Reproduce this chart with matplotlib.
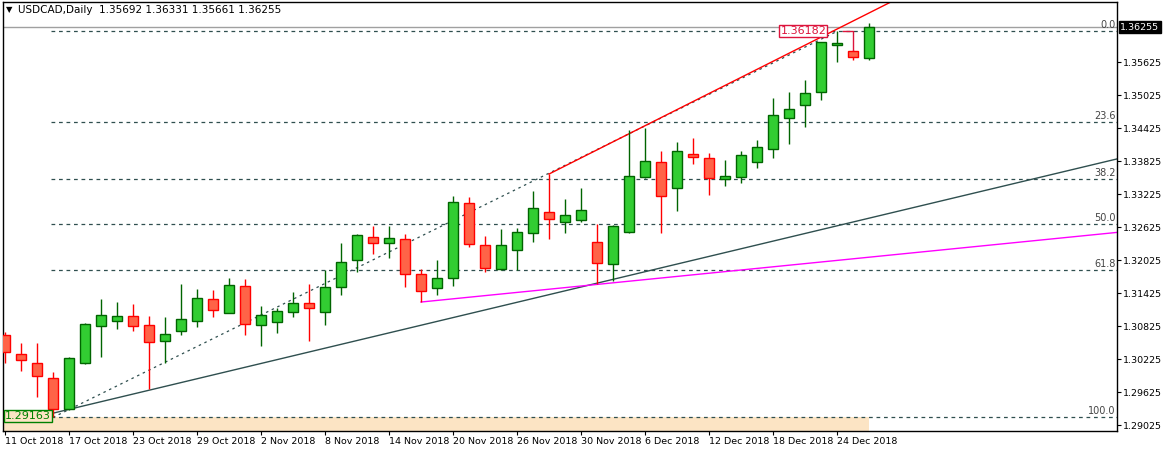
import matplotlib
matplotlib.use("Agg")
import matplotlib.pyplot as plt
import matplotlib.transforms as mtrans

# --- data (USDCAD daily, 11 Oct - 26 Dec 2018) ---
dates = ["11 Oct 2018", "12 Oct", "15 Oct", "16 Oct", "17 Oct 2018", "18 Oct", "19 Oct", "22 Oct",
         "23 Oct 2018", "24 Oct", "25 Oct", "26 Oct", "29 Oct 2018", "30 Oct", "31 Oct", "1 Nov",
         "2 Nov 2018", "5 Nov", "6 Nov", "7 Nov", "8 Nov 2018", "9 Nov", "12 Nov", "13 Nov",
         "14 Nov 2018", "15 Nov", "16 Nov", "19 Nov", "20 Nov 2018", "21 Nov", "22 Nov", "23 Nov",
         "26 Nov 2018", "27 Nov", "28 Nov", "29 Nov", "30 Nov 2018", "3 Dec", "4 Dec", "5 Dec",
         "6 Dec 2018", "7 Dec", "10 Dec", "11 Dec", "12 Dec 2018", "13 Dec", "14 Dec", "17 Dec",
         "18 Dec 2018", "19 Dec", "20 Dec", "21 Dec", "24 Dec 2018", "25 Dec", "26 Dec"]
opens = [1.30661, 1.30316, 1.30152, 1.29879, 1.29316, 1.30152, 1.30825, 1.30916, 1.31007, 1.30843,
         1.30552, 1.30734, 1.30916, 1.31316, 1.31061, 1.31552, 1.30843, 1.30897, 1.31079, 1.31243,
         1.31079, 1.31534, 1.32025, 1.32443, 1.32334, 1.32407, 1.31770, 1.31516, 1.31697, 1.33061,
         1.32297, 1.31861, 1.32207, 1.32516, 1.32897, 1.32716, 1.32752, 1.32352, 1.31952, 1.32534,
         1.33534, 1.33807, 1.33334, 1.33952, 1.33879, 1.33497, 1.33534, 1.33807, 1.34043, 1.34607,
         1.34843, 1.35079, 1.35934, 1.35825, 1.35692]
highs = [1.30716, 1.30516, 1.30516, 1.29988, 1.30261, 1.30879, 1.31316, 1.31261, 1.31225, 1.31007,
         1.30988, 1.31588, 1.31497, 1.31479, 1.31697, 1.31679, 1.31188, 1.31152, 1.31443, 1.31588,
         1.31843, 1.32334, 1.32497, 1.32643, 1.32643, 1.32497, 1.31861, 1.32025, 1.33188, 1.33170,
         1.32461, 1.32588, 1.32607, 1.33279, 1.33588, 1.33134, 1.33334, 1.32679, 1.32661, 1.34388,
         1.34425, 1.34006, 1.34170, 1.34243, 1.33970, 1.33843, 1.34006, 1.34207, 1.34970, 1.35079,
         1.35297, 1.35995, 1.36182, 1.35843, 1.36331]
lows = [1.30152, 1.30007, 1.29534, 1.29163, 1.29297, 1.30134, 1.30261, 1.30770, 1.30734, 1.29679,
        1.30152, 1.30661, 1.30807, 1.30988, 1.31061, 1.30661, 1.30461, 1.30697, 1.30988, 1.30552,
        1.30843, 1.31388, 1.31807, 1.32134, 1.32061, 1.31534, 1.31261, 1.31388, 1.31552, 1.32261,
        1.31807, 1.31843, 1.31843, 1.32352, 1.32407, 1.32516, 1.32716, 1.31588, 1.31643, 1.32516,
        1.33516, 1.32516, 1.32916, 1.33770, 1.33207, 1.33370, 1.33425, 1.33697, 1.33879, 1.34134,
        1.34443, 1.34934, 1.35625, 1.35661, 1.35661]
closes = [1.30352, 1.30207, 1.29916, 1.29316, 1.30243, 1.30861, 1.31025, 1.31007, 1.30825, 1.30534,
          1.30679, 1.30952, 1.31334, 1.31116, 1.31570, 1.30861, 1.31025, 1.31097, 1.31243, 1.31152,
          1.31534, 1.31988, 1.32479, 1.32334, 1.32425, 1.31770, 1.31461, 1.31697, 1.33079, 1.32316,
          1.31879, 1.32297, 1.32534, 1.32970, 1.32770, 1.32843, 1.32934, 1.31970, 1.32643, 1.33552,
          1.33825, 1.33188, 1.34006, 1.33897, 1.33516, 1.33552, 1.33934, 1.34079, 1.34661, 1.34770,
          1.35061, 1.35988, 1.35970, 1.35716, 1.36255]

fib_low, fib_high = 1.29163, 1.36182
fib_levels = [0.0, 23.6, 38.2, 50.0, 61.8, 100.0]
price_ticks = [1.35625, 1.35025, 1.34425, 1.33825, 1.33225, 1.32625, 1.32025, 1.31425,
               1.30825, 1.30225, 1.29625, 1.29025]
last_price = 1.36255

# trend lines: (index, price) pairs
red_line = [(34, 1.33588), (56, 1.36809)]
black_line = [(3, 1.29240), (36, 1.31534)]
pink_line = [(26, 1.31261), (36, 1.31552)]

up_body, up_edge = "#32CD32", "#006400"
dn_body, dn_edge = "#FF6347", "#FF0000"
grid_col = "#2F4F4F"

fig = plt.figure(figsize=(11.63, 4.49), dpi=100)
ax = fig.add_axes([3 / 1163, 18 / 449, 1114 / 1163, 429 / 449])
xmax = 69.5
ax.set_xlim(-0.125, xmax)
ax.set_ylim(1.28916, 1.36716)

def extend(pts, x_end):
    (x0, y0), (x1, y1) = pts
    k = (y1 - y0) / (x1 - x0)
    return [x0, x_end], [y0, y0 + k * (x_end - x0)]

# beige band + fib levels
ax.axhspan(1.28916, fib_low, xmin=0, xmax=(54 + 0.125) / (xmax + 0.125), color="#FCE4C4", lw=0, zorder=0)
ax.axhline(last_price, color="#A0A0A0", lw=1, zorder=1)
lbl_tr = mtrans.blended_transform_factory(ax.transAxes, ax.transData)
for lev in fib_levels:
    p = fib_high - lev / 100 * (fib_high - fib_low)
    ax.plot([2.85, xmax], [p, p], color=grid_col, lw=0.9, ls=(0, (3, 3)), zorder=1)
    ax.text(0.999, p + 0.0002, f"{lev:.1f}", transform=lbl_tr, ha="right", va="bottom",
            fontsize=7, color="#444444")

# fib diagonal
ax.plot([3, 52], [fib_low, fib_high], color=grid_col, lw=0.9, ls=(0, (2, 3)), zorder=2)

xs, ys = extend(black_line, xmax)
ax.plot(xs, ys, color=grid_col, lw=1, zorder=2)
xs, ys = extend(pink_line, xmax)
ax.plot(xs, ys, color="#FF00FF", lw=1, zorder=2)
xs, ys = extend(red_line, 60)
ax.plot(xs, ys, color="#FF0000", lw=1, zorder=2)

# candles
for i in range(len(opens)):
    o, h, l, c = opens[i], highs[i], lows[i], closes[i]
    up = c >= o
    ec = up_edge if up else dn_edge
    fc = up_body if up else dn_body
    ax.vlines(i, l, h, color=ec, lw=1, zorder=3)
    ax.bar(i, max(abs(c - o), 0.00006), bottom=min(o, c), width=0.62,
           color=fc, edgecolor=ec, lw=1, zorder=4)

# price labels
ax.text(49.9, fib_high, "1.36182", color="#DC143C", fontsize=8, va="center", ha="center", zorder=5,
        bbox=dict(boxstyle="square,pad=0.1", fc="white", ec="#DC143C", lw=1))
ax.plot([52.4, 53, 53], [fib_high, fib_high, 1.35843], color="#DC143C", lw=1, zorder=5)
ax.text(0.0, fib_low + 0.0002, "1.29163", color="#008000", fontsize=8, va="center", ha="left", zorder=5,
        bbox=dict(boxstyle="square,pad=0.1", fc="#FCE4C4", ec="#008000", lw=1))

# axes styling
ax.yaxis.tick_right()
ax.set_yticks(price_ticks)
ax.set_yticklabels([f"{t:.5f}" for t in price_ticks], fontsize=6.8)
ax.tick_params(axis="y", length=3, pad=1)
tick_idx = list(range(0, 55, 4))
ax.set_xticks(tick_idx)
ax.set_xticklabels([dates[i] for i in tick_idx], fontsize=6.8, ha="left")
ax.tick_params(axis="x", length=3, pad=1)
for s in ax.spines.values():
    s.set_color("black")
    s.set_linewidth(1)

ax.text(1.003, last_price, "1.36255", transform=lbl_tr, fontsize=6.8, color="white",
        va="center", ha="left", clip_on=False,
        bbox=dict(boxstyle="square,pad=0.15", fc="black", ec="black"))

fig.text(6 / 1163, 1 - 10 / 449, "\u25bc", fontsize=6, va="center", color="black")
fig.text(18 / 1163, 1 - 10 / 449, "USDCAD,Daily  1.35692 1.36331 1.35661 1.36255",
         fontsize=7.5, va="center", color="black")

fig.savefig("out.png", dpi=100)
